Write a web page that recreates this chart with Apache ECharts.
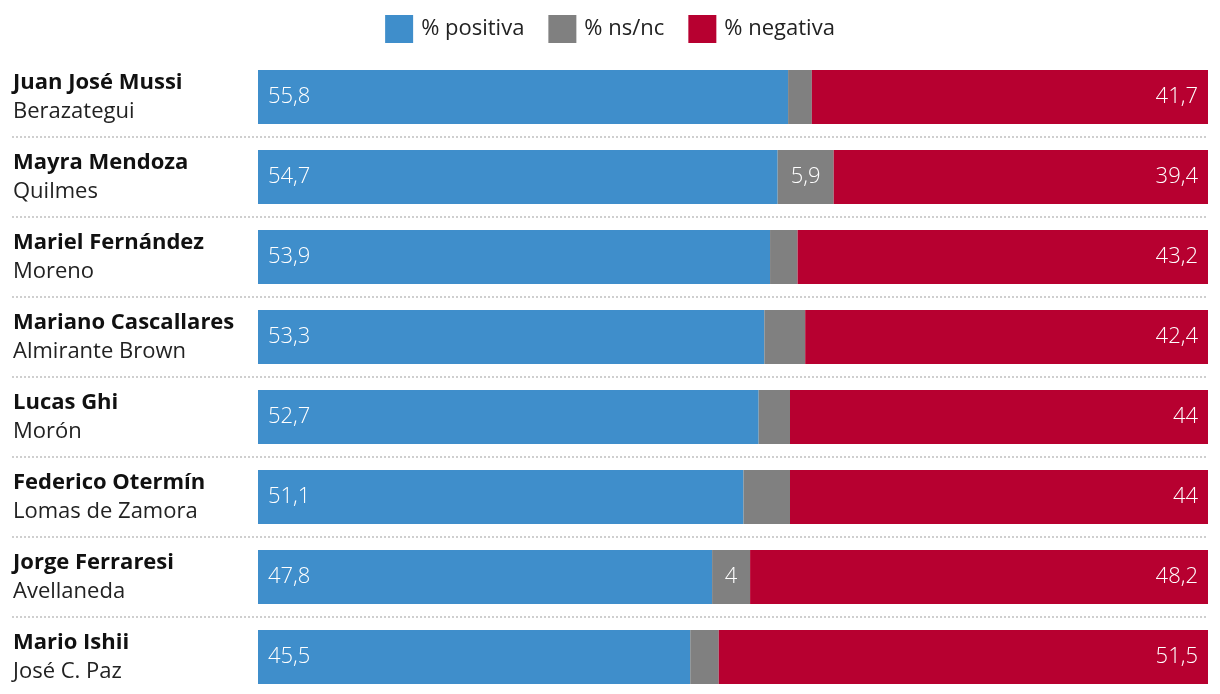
<!DOCTYPE html>
<html>
<head>
<meta charset="utf-8">
<script src="https://cdn.jsdelivr.net/npm/echarts@6/dist/echarts.min.js"></script>
<style>
html,body{margin:0;padding:0;background:#fff;overflow:hidden;}
#chart{width:1220px;height:700px;}
</style>
</head>
<body>
<div id="chart"></div>
<script>
const names = ['Juan José Mussi','Mayra Mendoza','Mariel Fernández','Mariano Cascallares','Lucas Ghi','Federico Otermín','Jorge Ferraresi','Mario Ishii'];
const regions = ['Berazategui','Quilmes','Moreno','Almirante Brown','Morón','Lomas de Zamora','Avellaneda','José C. Paz'];
const positiva = [55.8, 54.7, 53.9, 53.3, 52.7, 51.1, 47.8, 45.5];
const nsnc = [2.5, 5.9, 2.9, 4.3, 3.3, 4.9, 4, 3];
const nsncLabelShown = [false, true, false, false, false, false, true, false];
const negativa = [41.7, 39.4, 43.2, 42.4, 44, 44, 48.2, 51.5];

const FONT = '"Open Sans"';
const fmt = v => String(v).replace('.', ',');
const cats = names.map((n, i) => n + '|' + regions[i]);

const chart = echarts.init(document.getElementById('chart'), null, {renderer: 'canvas'});
const labelBase = {color: '#fff', fontSize: 22, fontFamily: FONT, fontWeight: 300};

chart.setOption({
  animation: false,
  textStyle: {fontFamily: FONT},
  legend: {
    top: 10,
    left: 'center',
    itemWidth: 28,
    itemHeight: 28,
    itemGap: 24,
    icon: 'rect',
    textStyle: {fontSize: 22, color: '#222', fontFamily: FONT, padding: [0, 0, 0, 3]},
    data: ['% positiva', '% ns/nc', '% negativa']
  },
  grid: [
    {left: 258, right: 12, top: 57, height: 640},
    {left: 12, right: 12, top: 57, height: 640}
  ],
  xAxis: [
    {gridIndex: 0, type: 'value', min: 0, max: 100, show: false},
    {gridIndex: 1, type: 'value', min: 0, max: 100, show: false}
  ],
  yAxis: [
    {
      gridIndex: 0, type: 'category', data: cats, inverse: true,
      axisLine: {show: false}, axisTick: {show: false}, splitLine: {show: false},
      axisLabel: {
        align: 'left', margin: 245,
        formatter: v => {
          const p = v.split('|');
          return '{n|' + p[0] + '}\n{r|' + p[1] + '}';
        },
        rich: {
          n: {fontSize: 22, fontWeight: 'bold', color: '#111', fontFamily: FONT, lineHeight: 29},
          r: {fontSize: 22, color: '#222', fontFamily: FONT, lineHeight: 29}
        }
      }
    },
    {
      gridIndex: 1, type: 'category', data: cats, inverse: true,
      axisLine: {show: false}, axisTick: {show: false}, axisLabel: {show: false},
      splitLine: {
        show: true,
        interval: (idx) => idx > 0 && idx < cats.length,
        lineStyle: {color: '#cfcfcf', type: [2, 2], width: 2}
      }
    }
  ],
  series: [
    {
      name: '% positiva', type: 'bar', stack: 'a', barWidth: 54,
      xAxisIndex: 0, yAxisIndex: 0,
      itemStyle: {color: '#3F8ECB'},
      label: Object.assign({show: true, position: 'insideLeft', distance: 10, formatter: p => fmt(p.value)}, labelBase),
      data: positiva
    },
    {
      name: '% ns/nc', type: 'bar', stack: 'a', barWidth: 54,
      xAxisIndex: 0, yAxisIndex: 0,
      itemStyle: {color: '#808080'},
      label: Object.assign({show: true, position: 'inside', formatter: p => nsncLabelShown[p.dataIndex] ? fmt(p.value) : ''}, labelBase),
      data: nsnc
    },
    {
      name: '% negativa', type: 'bar', stack: 'a', barWidth: 54,
      xAxisIndex: 0, yAxisIndex: 0,
      itemStyle: {color: '#B70030'},
      label: Object.assign({show: true, position: 'insideRight', distance: 10, formatter: p => fmt(p.value)}, labelBase),
      data: negativa
    }
  ]
});
</script>
</body>
</html>
